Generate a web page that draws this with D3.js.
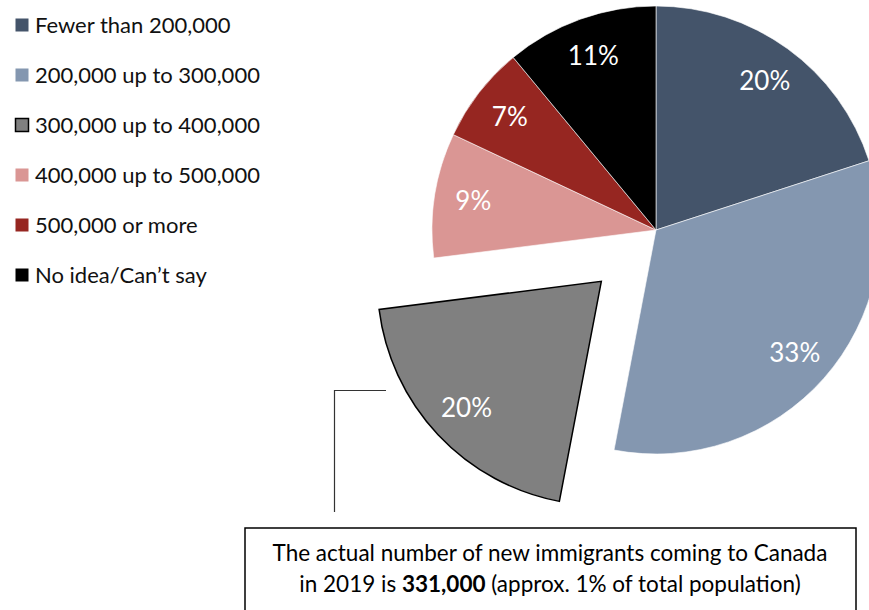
<!DOCTYPE html>
<html>
<head>
<meta charset="utf-8">
<script src="https://cdn.jsdelivr.net/npm/d3@7"></script>
<style>
  html, body { margin: 0; padding: 0; background: #fff; }
  svg { display: block; }
  text { font-family: Lato, "Open Sans", sans-serif; }
</style>
</head>
<body>
<svg id="chart" width="869" height="610"></svg>
<script>
// Survey answers: estimated number of new immigrants to Canada in 2019
const categories = [
  "Fewer than 200,000",
  "200,000 up to 300,000",
  "300,000 up to 400,000",
  "400,000 up to 500,000",
  "500,000 or more",
  "No idea/Can\u2019t say"
];
const shares = [20, 33, 20, 9, 7, 11];
const colors = ["#44546A", "#8497B0", "#808080", "#DA9694", "#962621", "#000000"];
const explodedIndex = 2; // the range holding the actual figure
const noteLines = [
  [{ t: "The actual number of new immigrants coming to Canada", b: false }],
  [{ t: "in 2019 is ", b: false }, { t: "331,000", b: true }, { t: " (approx. 1% of total population)", b: false }]
];

const svg = d3.select("#chart");
const cx = 656, cy = 230, radius = 224, explode = 75, labelR = 185;

const pie = d3.pie().sort(null).value(d => d);
const arcs = pie(shares);
const arc = d3.arc().innerRadius(0).outerRadius(radius);

const offset = (d, i) => {
  if (i !== explodedIndex) return [0, 0];
  const a = (d.startAngle + d.endAngle) / 2;
  return [explode * Math.sin(a), -explode * Math.cos(a)];
};

const g = svg.append("g").attr("transform", `translate(${cx},${cy})`);

const slice = g.selectAll("g.slice").data(arcs).join("g")
  .attr("class", "slice")
  .attr("transform", (d, i) => { const o = offset(d, i); return `translate(${o[0]},${o[1]})`; });

slice.append("path")
  .attr("d", arc)
  .attr("fill", (d, i) => colors[i])
  .attr("stroke", (d, i) => i === explodedIndex ? "#000" : "#fff")
  .attr("stroke-width", (d, i) => i === explodedIndex ? 1.5 : 0.6)
  .attr("stroke-linejoin", "miter");

slice.append("text")
  .attr("transform", d => {
    const a = (d.startAngle + d.endAngle) / 2;
    return `translate(${labelR * Math.sin(a)},${-labelR * Math.cos(a)})`;
  })
  .attr("text-anchor", "middle")
  .attr("dy", "0.36em")
  .attr("fill", "#fff")
  .attr("font-size", 26)
  .text(d => d.data + "%");

// Legend
const legend = svg.append("g").attr("transform", "translate(15,0)");
const row = legend.selectAll("g").data(categories).join("g")
  .attr("transform", (d, i) => `translate(0,${25 + i * 50})`);
row.append("rect")
  .attr("x", 0.5).attr("y", -6.5).attr("width", 13).attr("height", 13)
  .attr("fill", (d, i) => colors[i])
  .attr("stroke", (d, i) => i === explodedIndex ? "#000" : "none")
  .attr("stroke-width", 1.5);
row.append("text")
  .attr("x", 20).attr("dy", "0.36em")
  .attr("font-size", 22)
  .attr("fill", "#111")
  .text(d => d);

// Leader line from the exploded slice to the note
svg.append("path")
  .attr("d", "M386,390.5H334.5V512")
  .attr("fill", "none")
  .attr("stroke", "#333")
  .attr("stroke-width", 1.2);

// Note box
svg.append("rect")
  .attr("x", 245).attr("y", 528).attr("width", 611).attr("height", 100)
  .attr("fill", "#fff").attr("stroke", "#000").attr("stroke-width", 1.5);

const note = svg.append("g");
noteLines.forEach((parts, li) => {
  const t = note.append("text")
    .attr("x", 550).attr("y", 561 + li * 31)
    .attr("text-anchor", "middle")
    .attr("font-size", 22.5)
    .attr("fill", "#000");
  parts.forEach(p => t.append("tspan").attr("font-weight", p.b ? "bold" : "normal").text(p.t));
});
</script>
</body>
</html>
